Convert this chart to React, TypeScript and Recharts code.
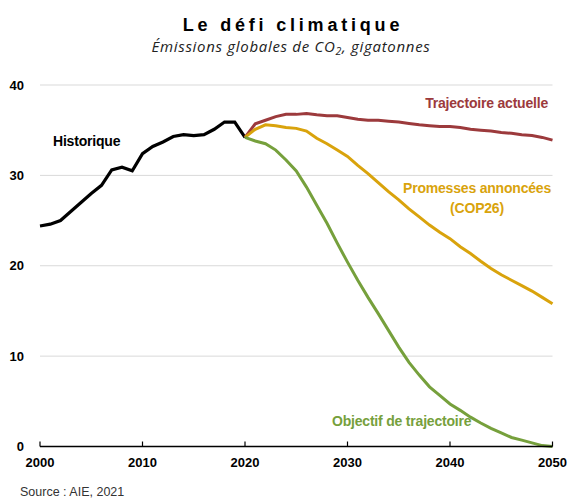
import React from 'react';
import { LineChart, Line, XAxis, YAxis, CartesianGrid } from 'recharts';

// années 2000 -> 2050
const years = [
  2000, 2001, 2002, 2003, 2004, 2005, 2006, 2007, 2008, 2009,
  2010, 2011, 2012, 2013, 2014, 2015, 2016, 2017, 2018, 2019,
  2020, 2021, 2022, 2023, 2024, 2025, 2026, 2027, 2028, 2029,
  2030, 2031, 2032, 2033, 2034, 2035, 2036, 2037, 2038, 2039,
  2040, 2041, 2042, 2043, 2044, 2045, 2046, 2047, 2048, 2049, 2050,
];

// 2000 -> 2020
const historique = [
  24.4, 24.6, 25.0, 26.0, 27.0, 28.0, 28.9, 30.6, 30.9, 30.5,
  32.4, 33.2, 33.7, 34.3, 34.5, 34.4, 34.5, 35.1, 35.9, 35.9, 34.2,
];

// 2020 -> 2050
const trajectoireActuelle = [
  34.2, 35.7, 36.1, 36.5, 36.75, 36.75, 36.85, 36.7, 36.6, 36.6,
  36.4, 36.2, 36.1, 36.1, 36.0, 35.9, 35.75, 35.6, 35.5, 35.4,
  35.4, 35.3, 35.1, 35.0, 34.9, 34.75, 34.65, 34.5, 34.4, 34.2, 33.9,
];

const promesses = [
  34.2, 35.1, 35.6, 35.5, 35.3, 35.2, 34.9, 34.1, 33.5, 32.8,
  32.1, 31.1, 30.2, 29.2, 28.2, 27.3, 26.3, 25.4, 24.5, 23.7,
  23.0, 22.1, 21.35, 20.5, 19.7, 19.0, 18.4, 17.8, 17.2, 16.5, 15.8,
];

const objectif = [
  34.2, 33.8, 33.5, 32.8, 31.7, 30.5, 28.7, 26.7, 24.7, 22.5,
  20.4, 18.4, 16.5, 14.7, 12.85, 11.0, 9.3, 7.9, 6.6, 5.65,
  4.7, 4.0, 3.25, 2.6, 2.0, 1.5, 1.0, 0.7, 0.4, 0.1, 0,
];

const xTicks = [2000, 2010, 2020, 2030, 2040, 2050];
const yTicks = [0, 10, 20, 30, 40];

const START_PROJ = 20; // index de 2020

const data = years.map((year, i) => ({
  year,
  historique: i <= START_PROJ ? historique[i] : undefined,
  actuelle: i >= START_PROJ ? trajectoireActuelle[i - START_PROJ] : undefined,
  promesses: i >= START_PROJ ? promesses[i - START_PROJ] : undefined,
  objectif: i >= START_PROJ ? objectif[i - START_PROJ] : undefined,
}));

const RED = '#9c3a3c';
const GOLD = '#d9a30c';
const GREEN = '#76a03c';

const sans = '"Liberation Sans", Arial, sans-serif';
const tickStyle = { fontFamily: sans, fontSize: 13, fontWeight: 'bold', fill: '#000' };
const labelStyle = { fontFamily: sans, fontSize: 14, fontWeight: 'bold', letterSpacing: -0.2 } as const;

export default function App() {
  return (
    <div style={{ position: 'absolute', left: 0, top: 0, width: 570, height: 498, background: '#fff' }}>
      <LineChart
        width={570}
        height={498}
        data={data}
        margin={{ top: 85, right: 17.5, bottom: 21.5, left: 0 }}
      >
        <CartesianGrid vertical={false} stroke="#d9d9d9" strokeWidth={1} />
        <XAxis
          dataKey="year"
          type="number"
          domain={[2000, 2050]}
          ticks={xTicks}
          height={30}
          tick={tickStyle}
          tickSize={-5}
          tickMargin={16}
          axisLine={{ stroke: '#000', strokeWidth: 1.5 }}
          tickLine={{ stroke: '#000', strokeWidth: 1.2 }}
        />
        <YAxis
          type="number"
          domain={[0, 40]}
          ticks={yTicks}
          width={40}
          axisLine={false}
          tickLine={false}
          tickSize={0}
          tickMargin={16}
          tick={tickStyle}
        />
        <Line dataKey="historique" stroke="#000" strokeWidth={3.2} dot={false} isAnimationActive={false} />
        <Line dataKey="actuelle" stroke={RED} strokeWidth={3} dot={false} isAnimationActive={false} />
        <Line dataKey="promesses" stroke={GOLD} strokeWidth={3} dot={false} isAnimationActive={false} />
        <Line dataKey="objectif" stroke={GREEN} strokeWidth={3} dot={false} isAnimationActive={false} />
      </LineChart>

      <svg width={570} height={498} style={{ position: 'absolute', left: 0, top: 0, pointerEvents: 'none' }}>
        <text x={293} y={31} textAnchor="middle" fontFamily={sans} fontSize={18} fontWeight="bold" letterSpacing={3.8}>
          Le défi climatique
        </text>
        <text x={291} y={52} textAnchor="middle" fontFamily='"Open Sans", sans-serif' fontSize={15} fontStyle="italic" letterSpacing={0.7} fill="#222">
          Émissions globales de CO<tspan fontSize={10.5} dy={3}>2</tspan>
          <tspan dy={-3}>, gigatonnes</tspan>
        </text>

        <text x={53} y={146} style={labelStyle} fill="#000">Historique</text>
        <text x={548} y={108} textAnchor="end" style={labelStyle} fill={RED}>Trajectoire actuelle</text>
        <text x={551} y={193} textAnchor="end" style={labelStyle} fill={GOLD}>Promesses annoncées</text>
        <text x={477} y={213} textAnchor="middle" style={labelStyle} fill={GOLD}>(COP26)</text>
        <text x={332} y={426} style={labelStyle} fill={GREEN}>Objectif de trajectoire</text>

        <text x={20} y={496} fontFamily={sans} fontSize={12.5} fill="#333">Source : AIE, 2021</text>
      </svg>
    </div>
  );
}
